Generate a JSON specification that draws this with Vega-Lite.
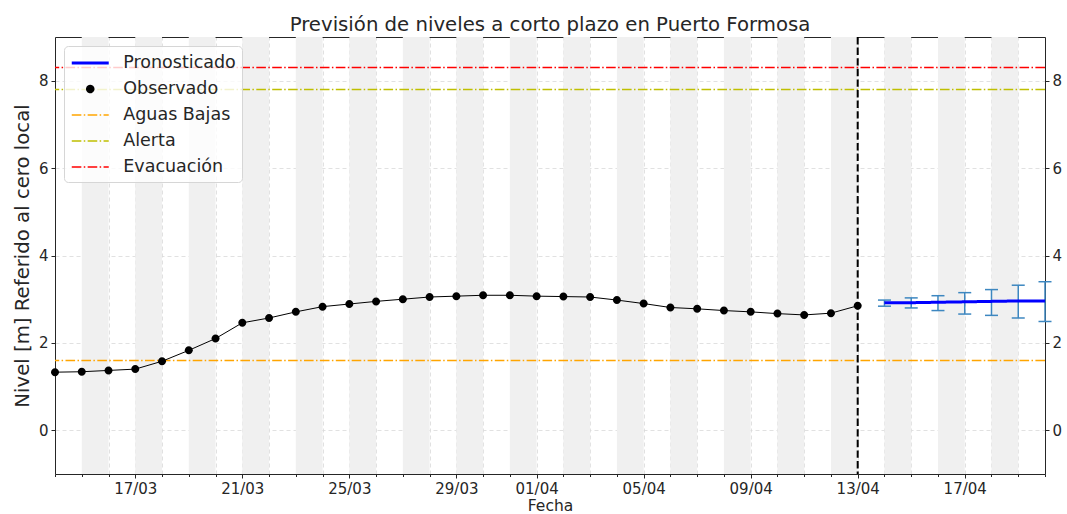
{
  "$schema": "https://vega.github.io/schema/vega-lite/v6.json",
  "width": 990,
  "height": 437,
  "autosize": {"type": "none"},
  "padding": {"left": 55, "top": 37, "right": 22, "bottom": 40},
  "title": {"text": "Previsión de niveles a corto plazo en Puerto Formosa", "fontSize": 19.7, "font": "DejaVu Sans", "fontWeight": "normal", "color": "#262626", "offset": 1},
  "config": {
    "font": "DejaVu Sans",
    "view": {"stroke": null},
    "axis": {"labelFont": "DejaVu Sans", "titleFont": "DejaVu Sans", "labelColor": "#262626", "titleColor": "#262626", "tickColor": "#262626", "domain": true, "domainColor": "#262626", "domainWidth": 1, "labelFontSize": 15, "titleFontWeight": "normal", "gridColor": "#d9d9d9", "gridDash": [4, 3], "gridWidth": 0.8, "zindex": 1},
    "legend": {"title": null, "orient": "top-left", "offset": 9, "padding": 6, "symbolSize": 342, "symbolStrokeWidth": 1.5, "labelFontSize": 17.5, "labelFont": "DejaVu Sans", "labelColor": "#262626", "strokeColor": "#d6d6d6", "fillColor": "rgba(255,255,255,0.8)", "cornerRadius": 4, "rowPadding": 7, "labelOffset": 22, "symbolOffset": 9.25}
  },
  "datasets": {
    "bandas": [
      {"inicio": "2025-03-15", "fin": "2025-03-16"},
      {"inicio": "2025-03-17", "fin": "2025-03-18"},
      {"inicio": "2025-03-19", "fin": "2025-03-20"},
      {"inicio": "2025-03-21", "fin": "2025-03-22"},
      {"inicio": "2025-03-23", "fin": "2025-03-24"},
      {"inicio": "2025-03-25", "fin": "2025-03-26"},
      {"inicio": "2025-03-27", "fin": "2025-03-28"},
      {"inicio": "2025-03-29", "fin": "2025-03-30"},
      {"inicio": "2025-03-31", "fin": "2025-04-01"},
      {"inicio": "2025-04-02", "fin": "2025-04-03"},
      {"inicio": "2025-04-04", "fin": "2025-04-05"},
      {"inicio": "2025-04-06", "fin": "2025-04-07"},
      {"inicio": "2025-04-08", "fin": "2025-04-09"},
      {"inicio": "2025-04-10", "fin": "2025-04-11"},
      {"inicio": "2025-04-12", "fin": "2025-04-13"},
      {"inicio": "2025-04-14", "fin": "2025-04-15"},
      {"inicio": "2025-04-16", "fin": "2025-04-17"},
      {"inicio": "2025-04-18", "fin": "2025-04-19"}
    ],
    "umbrales": [
      {"serie": "Aguas Bajas", "nivel": 1.6},
      {"serie": "Alerta", "nivel": 7.8},
      {"serie": "Evacuación", "nivel": 8.3}
    ],
    "corte": [{"fecha": "2025-04-13"}],
    "obs": [
      {"fecha": "2025-03-14", "nivel": 1.33, "serie": "Observado"},
      {"fecha": "2025-03-15", "nivel": 1.34, "serie": "Observado"},
      {"fecha": "2025-03-16", "nivel": 1.37, "serie": "Observado"},
      {"fecha": "2025-03-17", "nivel": 1.40, "serie": "Observado"},
      {"fecha": "2025-03-18", "nivel": 1.58, "serie": "Observado"},
      {"fecha": "2025-03-19", "nivel": 1.83, "serie": "Observado"},
      {"fecha": "2025-03-20", "nivel": 2.10, "serie": "Observado"},
      {"fecha": "2025-03-21", "nivel": 2.46, "serie": "Observado"},
      {"fecha": "2025-03-22", "nivel": 2.57, "serie": "Observado"},
      {"fecha": "2025-03-23", "nivel": 2.71, "serie": "Observado"},
      {"fecha": "2025-03-24", "nivel": 2.83, "serie": "Observado"},
      {"fecha": "2025-03-25", "nivel": 2.89, "serie": "Observado"},
      {"fecha": "2025-03-26", "nivel": 2.95, "serie": "Observado"},
      {"fecha": "2025-03-27", "nivel": 3.00, "serie": "Observado"},
      {"fecha": "2025-03-28", "nivel": 3.05, "serie": "Observado"},
      {"fecha": "2025-03-29", "nivel": 3.07, "serie": "Observado"},
      {"fecha": "2025-03-30", "nivel": 3.09, "serie": "Observado"},
      {"fecha": "2025-03-31", "nivel": 3.09, "serie": "Observado"},
      {"fecha": "2025-04-01", "nivel": 3.07, "serie": "Observado"},
      {"fecha": "2025-04-02", "nivel": 3.06, "serie": "Observado"},
      {"fecha": "2025-04-03", "nivel": 3.05, "serie": "Observado"},
      {"fecha": "2025-04-04", "nivel": 2.98, "serie": "Observado"},
      {"fecha": "2025-04-05", "nivel": 2.90, "serie": "Observado"},
      {"fecha": "2025-04-06", "nivel": 2.81, "serie": "Observado"},
      {"fecha": "2025-04-07", "nivel": 2.78, "serie": "Observado"},
      {"fecha": "2025-04-08", "nivel": 2.74, "serie": "Observado"},
      {"fecha": "2025-04-09", "nivel": 2.71, "serie": "Observado"},
      {"fecha": "2025-04-10", "nivel": 2.67, "serie": "Observado"},
      {"fecha": "2025-04-11", "nivel": 2.64, "serie": "Observado"},
      {"fecha": "2025-04-12", "nivel": 2.68, "serie": "Observado"},
      {"fecha": "2025-04-13", "nivel": 2.85, "serie": "Observado"}
    ],
    "fc": [
      {"fecha": "2025-04-14", "nivel": 2.92, "lo": 2.84, "hi": 2.98, "serie": "Pronosticado"},
      {"fecha": "2025-04-15", "nivel": 2.92, "lo": 2.80, "hi": 3.03, "serie": "Pronosticado"},
      {"fecha": "2025-04-16", "nivel": 2.93, "lo": 2.74, "hi": 3.08, "serie": "Pronosticado"},
      {"fecha": "2025-04-17", "nivel": 2.94, "lo": 2.66, "hi": 3.15, "serie": "Pronosticado"},
      {"fecha": "2025-04-18", "nivel": 2.95, "lo": 2.63, "hi": 3.22, "serie": "Pronosticado"},
      {"fecha": "2025-04-19", "nivel": 2.96, "lo": 2.57, "hi": 3.32, "serie": "Pronosticado"},
      {"fecha": "2025-04-20", "nivel": 2.96, "lo": 2.49, "hi": 3.40, "serie": "Pronosticado"}
    ]
  },
  "resolve": {"axis": {"y": "independent"}},
  "layer": [
    {
      "data": {"name": "bandas"},
      "mark": {"type": "rect", "color": "#f0f0f0"},
      "encoding": {
        "x": {
          "field": "inicio", "type": "temporal",
          "scale": {"type": "utc", "domain": [{"year": 2025, "month": 3, "date": 14, "utc": true}, {"year": 2025, "month": 4, "date": 20, "utc": true}]},
          "axis": {
            "orient": "bottom",
            "title": "Fecha", "titleFontSize": 15.5, "titlePadding": 2,
            "tickCount": {"interval": "day", "step": 1},
            "labelExpr": "indexof([1,5,9,13,17,21,25,29], utcdate(datum.value)) >= 0 ? utcFormat(datum.value, '%d/%m') : ''",
            "labelOverlap": false, "labelFlush": false, "labelPadding": 3,
            "grid": true,
            "tickSize": {"condition": {"test": "indexof([1,5,9,13,17,21,25,29], utcdate(datum.value)) >= 0", "value": 4}, "value": 2.5}
          }
        },
        "x2": {"field": "fin"}
      }
    },
    {
      "data": {"name": "umbrales"},
      "mark": {"type": "rule", "strokeWidth": 1.5},
      "encoding": {
        "y": {
          "field": "nivel", "type": "quantitative",
          "scale": {"domain": [-1, 9], "nice": false, "zero": false},
          "axis": {"orient": "left", "title": "Nivel [m] Referido al cero local", "titleFontSize": 19.7, "titlePadding": 6, "values": [0, 2, 4, 6, 8], "grid": true, "tickSize": 4, "labelPadding": 3}
        },
        "color": {"field": "serie", "type": "nominal", "scale": {"domain": ["Pronosticado", "Observado", "Aguas Bajas", "Alerta", "Evacuación"], "range": ["#0000ff", "#000000", "#ffa500", "#bfbf00", "#ff0000"]}, "legend": {"title": null}},
        "strokeDash": {"field": "serie", "type": "nominal", "scale": {"domain": ["Pronosticado", "Observado", "Aguas Bajas", "Alerta", "Evacuación"], "range": [[1, 0], [1, 0], [9.6, 2.4, 1.5, 2.4], [9.6, 2.4, 1.5, 2.4], [9.6, 2.4, 1.5, 2.4]]}, "legend": {"title": null}}
      }
    },
    {
      "data": {"name": "corte"},
      "mark": {"type": "rule", "color": "black", "strokeWidth": 2, "strokeDash": [7.4, 3.2]},
      "encoding": {"x": {"field": "fecha", "type": "temporal", "scale": {"type": "utc"}, "axis": {"orient": "top", "title": null, "labels": false, "ticks": false, "grid": false, "domain": true}}}
    },
    {
      "data": {"name": "obs"},
      "mark": {"type": "line", "color": "black", "strokeWidth": 1},
      "encoding": {
        "x": {"field": "fecha", "type": "temporal", "scale": {"type": "utc"}, "axis": null},
        "y": {"field": "nivel", "type": "quantitative", "axis": null}
      }
    },
    {
      "data": {"name": "obs"},
      "mark": {"type": "point", "filled": true, "size": 448, "opacity": 1},
      "encoding": {
        "x": {"field": "fecha", "type": "temporal", "scale": {"type": "utc"}, "axis": null},
        "y": {"field": "nivel", "type": "quantitative", "axis": {"orient": "right", "title": null, "values": [0, 2, 4, 6, 8], "grid": false, "tickSize": 4, "labelPadding": 3}},
        "color": {"field": "serie", "type": "nominal", "legend": {"title": null}},
        "shape": {"field": "serie", "type": "nominal", "scale": {"domain": ["Pronosticado", "Observado", "Aguas Bajas", "Alerta", "Evacuación"], "range": ["M-2,0H2", "M0.378,0A0.378,0.378,0,0,1,0,0.378A0.378,0.378,0,0,1,-0.378,0A0.378,0.378,0,0,1,0,-0.378A0.378,0.378,0,0,1,0.378,0Z", "M-2,0H2", "M-2,0H2", "M-2,0H2"]}, "legend": {"title": null}}
      }
    },
    {
      "data": {"name": "fc"},
      "mark": {"type": "rule", "color": "#3d87c0", "strokeWidth": 1.5},
      "encoding": {
        "x": {"field": "fecha", "type": "temporal", "scale": {"type": "utc"}, "axis": null},
        "y": {"field": "lo", "type": "quantitative", "axis": null},
        "y2": {"field": "hi"}
      }
    },
    {
      "data": {"name": "fc"},
      "mark": {"type": "tick", "orient": "horizontal", "color": "#3d87c0", "thickness": 1.5, "size": 13, "opacity": 1},
      "encoding": {
        "x": {"field": "fecha", "type": "temporal", "scale": {"type": "utc"}, "axis": null},
        "y": {"field": "lo", "type": "quantitative", "axis": null}
      }
    },
    {
      "data": {"name": "fc"},
      "mark": {"type": "tick", "orient": "horizontal", "color": "#3d87c0", "thickness": 1.5, "size": 13, "opacity": 1},
      "encoding": {
        "x": {"field": "fecha", "type": "temporal", "scale": {"type": "utc"}, "axis": null},
        "y": {"field": "hi", "type": "quantitative", "axis": null}
      }
    },
    {
      "data": {"name": "fc"},
      "mark": {"type": "line"},
      "encoding": {
        "x": {"field": "fecha", "type": "temporal", "scale": {"type": "utc"}, "axis": null},
        "y": {"field": "nivel", "type": "quantitative", "axis": null},
        "color": {"field": "serie", "type": "nominal", "legend": {"title": null}},
        "strokeDash": {"field": "serie", "type": "nominal", "legend": {"title": null}},
        "strokeWidth": {"field": "serie", "type": "nominal", "scale": {"type": "ordinal", "domain": ["Pronosticado", "Observado", "Aguas Bajas", "Alerta", "Evacuación"], "range": [3, 1.5, 1.5, 1.5, 1.5]}, "legend": {"title": null}}
      }
    }
  ]
}
